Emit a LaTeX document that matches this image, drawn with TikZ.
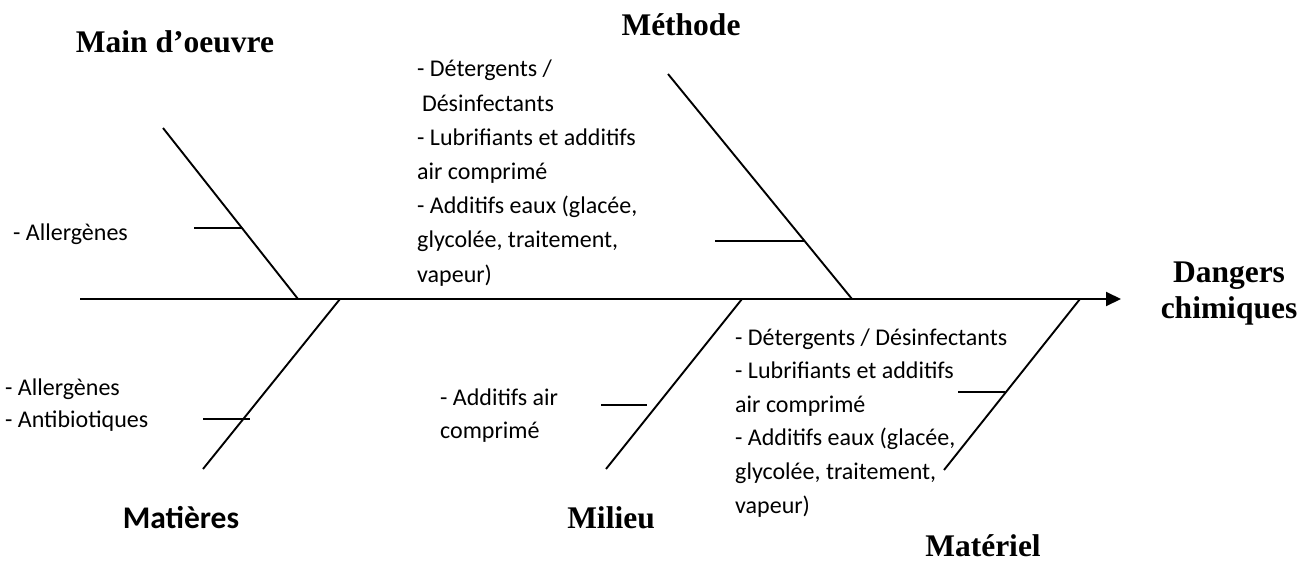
\documentclass[tikz,border=0pt]{standalone}
\usepackage{fontspec}
\setmainfont{Carlito}
\newfontfamily\headserif{Liberation Serif}
\usetikzlibrary{arrows.meta}
\tikzset{
  bone/.style={line width=1.9pt},
  spine/.style={line width=1.9pt, -{Triangle[length=15pt,width=14pt]}},
  cause/.style={font=\headserif\bfseries\fontsize{31.5}{36}\selectfont, anchor=base,
                align=center, inner sep=0pt},
  causesf/.style={font=\bfseries\fontsize{31.5}{36}\selectfont, anchor=base, inner sep=0pt},
  items/.style={font=\fontsize{24}{#1}\selectfont, anchor=base west, align=left, inner sep=0pt},
  items/.default=33.6,
}
\begin{document}
\begin{tikzpicture}[x=1pt,y=-1pt]
  \useasboundingbox (0,0) rectangle (1312,562);

  % spine and effect (base = last line)
  \coordinate (tail) at (80,299);
  \coordinate (tip)  at (1121,299);
  \draw[spine] (tail) -- (tip);
  \node[cause] (effect) at (1229,318) {Dangers\\chimiques};

  % upper bones
  \coordinate (mo-top) at (163,128);  \coordinate (mo-foot) at (298,299);
  \coordinate (me-top) at (668,74);   \coordinate (me-foot) at (852,299);
  \draw[bone] (mo-top) -- (mo-foot);
  \draw[bone] (me-top) -- (me-foot);
  \coordinate (mo-j) at (242,228);    \coordinate (mo-e) at (194,228);
  \coordinate (me-j) at (805,241);    \coordinate (me-e) at (715,241);
  \draw[bone] (mo-e) -- (mo-j);
  \draw[bone] (me-e) -- (me-j);

  % lower bones
  \coordinate (ma-foot) at (340,299); \coordinate (ma-end) at (203,469);
  \coordinate (mi-foot) at (742,299); \coordinate (mi-end) at (606,469);
  \coordinate (mt-foot) at (1080,299);\coordinate (mt-end) at (944,470);
  \draw[bone] (ma-foot) -- (ma-end);
  \draw[bone] (mi-foot) -- (mi-end);
  \draw[bone] (mt-foot) -- (mt-end);
  \coordinate (ma-e) at (203,419);    \coordinate (ma-j) at (250,419);
  \coordinate (mi-e) at (601,405);    \coordinate (mi-j) at (647,405);
  \coordinate (mt-e) at (958,392);    \coordinate (mt-j) at (1005,392);
  \draw[bone] (ma-e) -- (ma-j);
  \draw[bone] (mi-e) -- (mi-j);
  \draw[bone] (mt-e) -- (mt-j);

  % cause titles
  \node[cause]   (mo) at (175,52)  {Main d’oeuvre};
  \node[cause]   (me) at (681,35)  {Méthode};
  \node[causesf] (ma) at (181,528) {Matières};
  \node[cause]   (mi) at (611,528) {Milieu};
  \node[cause]   (mt) at (983,556) {Matériel};

  % items (placed by the baseline of their last line)
  \node[items] (mo-list) at (13,240) {- Allergènes};
  \node[items=34.2] (me-list) at (417,282) {- Détergents /\\\hspace{0.2em}Désinfectants\\- Lubrifiants et additifs\\air comprimé\\- Additifs eaux (glacée,\\glycolée, traitement,\\vapeur)};
  \node[items=32] (ma-list) at (5,427) {- Allergènes\\- Antibiotiques};
  \node[items=33] (mi-list) at (440,438) {- Additifs air\\comprimé};
  \node[items] (mt-list) at (735,513) {- Détergents / Désinfectants\\- Lubrifiants et additifs\\air comprimé\\- Additifs eaux (glacée,\\glycolée, traitement,\\vapeur)};
\end{tikzpicture}
\end{document}
